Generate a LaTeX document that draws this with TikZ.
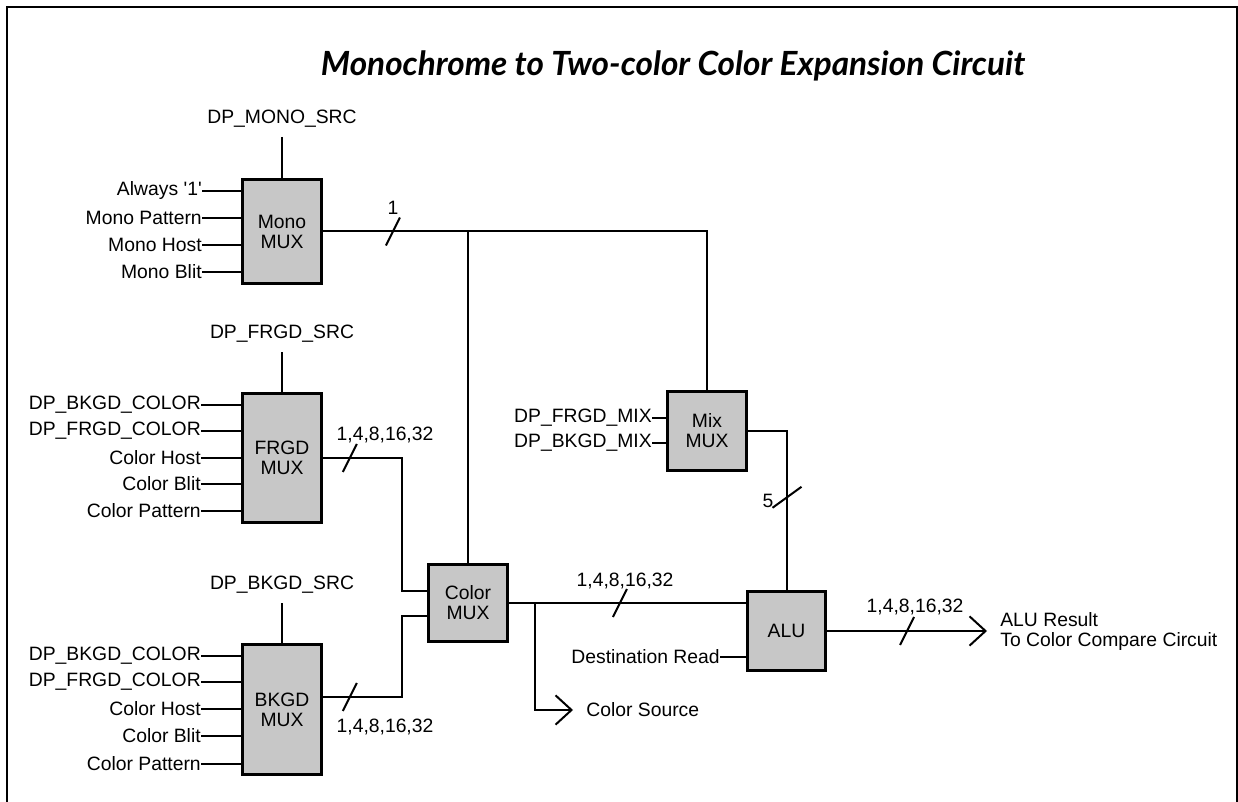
\documentclass[tikz,border=0pt]{standalone}
\usepackage{fontspec}
\setmainfont{Liberation Sans}
\newfontfamily\titlefont{Lato}
\usetikzlibrary{positioning,arrows.meta}

\begin{document}
\begin{tikzpicture}[x=0.75pt,y=-0.75pt,font=\fontsize{14.5}{15}\selectfont,
  mux/.style={draw,line width=2.25pt,fill=black!22,align=center,inner sep=0pt,minimum width=59.25pt},
  sig/.style={inner sep=0pt},
  src/.style={inner sep=0pt,outer sep=7.5pt},
  outlbl/.style={inner sep=0pt,outer xsep=10pt,anchor=west,align=left},
  wire/.style={line width=1.5pt},
  bus/.style={wire,-{Straight Barb[length=12pt,width=22pt]}},
  tick/.style={line width=1.5pt}]
\useasboundingbox (0,0) rectangle (1238,802);
% frame and title
\draw[line width=1.5pt] (7,802) -- (7,7) -- (1237,7) -- (1237,802);
\node[font=\titlefont\bfseries\itshape\fontsize{25}{28}\selectfont] (title) at (673,66) {Monochrome to Two-color Color Expansion Circuit};
% mono mux
\node[mux,minimum height=78pt] (mono) at (282,231.5) {Mono\\MUX};
\node[src,above=30.75pt of mono] (monosrc) {DP\_MONO\_SRC};
\draw[wire] (monosrc) -- (mono);
\node[sig,anchor=east] (one) at (202,191) {Always \textquotesingle 1\textquotesingle};
\node[sig,anchor=east] (mpat) at (202,218) {Mono Pattern};
\node[sig,anchor=east] (mhost) at (202,245) {Mono Host};
\node[sig,anchor=east] (mblit) at (202,272) {Mono Blit};
\draw[wire] (one.east) -- (one.east -| mono.west);
\draw[wire] (mpat.east) -- (mpat.east -| mono.west);
\draw[wire] (mhost.east) -- (mhost.east -| mono.west);
\draw[wire] (mblit.east) -- (mblit.east -| mono.west);
% frgd mux
\node[mux,minimum height=96.75pt] (frgd) at (282,458) {FRGD\\MUX};
\node[src,above=30pt of frgd] (frgdsrc) {DP\_FRGD\_SRC};
\draw[wire] (frgdsrc) -- (frgd);
\node[sig,anchor=east] (fbc) at (201,405) {DP\_BKGD\_COLOR};
\node[sig,anchor=east] (ffc) at (201,431) {DP\_FRGD\_COLOR};
\node[sig,anchor=east] (fhost) at (201,458) {Color Host};
\node[sig,anchor=east] (fblit) at (201,484) {Color Blit};
\node[sig,anchor=east] (fpat) at (201,511) {Color Pattern};
\draw[wire] (fbc.east) -- (fbc.east -| frgd.west);
\draw[wire] (ffc.east) -- (ffc.east -| frgd.west);
\draw[wire] (fhost.east) -- (fhost.east -| frgd.west);
\draw[wire] (fblit.east) -- (fblit.east -| frgd.west);
\draw[wire] (fpat.east) -- (fpat.east -| frgd.west);
% bkgd mux
\node[mux,minimum height=97.5pt] (bkgd) at (282,709.5) {BKGD\\MUX};
\node[src,above=30pt of bkgd] (bkgdsrc) {DP\_BKGD\_SRC};
\draw[wire] (bkgdsrc) -- (bkgd);
\node[sig,anchor=east] (bbc) at (201,656) {DP\_BKGD\_COLOR};
\node[sig,anchor=east] (bfc) at (201,682) {DP\_FRGD\_COLOR};
\node[sig,anchor=east] (bhost) at (201,709) {Color Host};
\node[sig,anchor=east] (bblit) at (201,736) {Color Blit};
\node[sig,anchor=east] (bpat) at (201,764) {Color Pattern};
\draw[wire] (bbc.east) -- (bbc.east -| bkgd.west);
\draw[wire] (bfc.east) -- (bfc.east -| bkgd.west);
\draw[wire] (bhost.east) -- (bhost.east -| bkgd.west);
\draw[wire] (bblit.east) -- (bblit.east -| bkgd.west);
\draw[wire] (bpat.east) -- (bpat.east -| bkgd.west);
% color, mix and alu
\node[mux,minimum height=57.75pt] (cmux) at (468,603) {Color\\MUX};
\node[mux,minimum height=59.25pt] (mix) at (707,431) {Mix\\MUX};
\node[mux,minimum height=59.25pt,minimum width=58.5pt] (alu) at (786.5,631) {ALU};
\node[sig,anchor=east] (fmix) at (652,418) {DP\_FRGD\_MIX};
\node[sig,anchor=east] (bmix) at (652,443) {DP\_BKGD\_MIX};
\draw[wire] (fmix.east) -- (fmix.east -| mix.west);
\draw[wire] (bmix.east) -- (bmix.east -| mix.west);
\node[sig,anchor=east] (dst) at (720,657) {Destination Read};
\draw[wire] (dst.east) -- (dst.east -| alu.west);
% mono bit to mix and color mux
\draw[wire] (mono.east) -- coordinate[pos=0.182] (t1) (mono.east -| mix.north) -- (mix.north);
\draw[tick] (t1) ++(-7,14) -- ++(14,-28);
\node[sig] (w1) at (393,208) {1};
\draw[wire] (cmux.north) -- (cmux.north |- mono.east);
% frgd/bkgd into color mux
\coordinate (colx) at (402,603);
\draw[wire] (frgd.east) -- coordinate[pos=0.34] (t2) (frgd.east -| colx) |- ([yshift=9pt]cmux.west);
\draw[tick] (t2) ++(-7,14) -- ++(14,-28);
\node[sig] (w2) at (385,435) {1,4,8,16,32};
\draw[wire] ([yshift=9.4pt]bkgd.east) -- coordinate[pos=0.34] (t3) ([yshift=9.4pt]bkgd.east -| colx) |- ([yshift=-9.75pt]cmux.west);
\draw[tick] (t3) ++(-7,14) -- ++(14,-28);
\node[sig] (w3) at (385,727) {1,4,8,16,32};
% color mux out
\draw[wire] (cmux.east) -- coordinate[pos=0.11] (br) coordinate[pos=0.468] (t4) (cmux.east -| alu.west);
\draw[tick] (t4) ++(-7,14) -- ++(14,-28);
\node[sig] (w4) at (625,581) {1,4,8,16,32};
\node[outlbl] (csrc) at (573,710) {Color Source};
\draw[bus] (br) |- (csrc.west);
% mix out to alu
\draw[wire] (mix.east) -- (mix.east -| alu.north) -- coordinate[pos=0.42] (t5) (alu.north);
\draw[tick] (t5) ++(-14,10) -- ++(29,-21);
\node[sig] (w5) at (768,501) {5};
% alu result
\node[outlbl] (res) at (987,631) {ALU Result\\To Color Compare Circuit};
\draw[bus] (alu.east) -- coordinate[pos=0.5] (t6) (res.west);
\draw[tick] (t6) ++(-7,14) -- ++(14,-28);
\node[sig] (w6) at (915,607) {1,4,8,16,32};
\end{tikzpicture}
\end{document}
